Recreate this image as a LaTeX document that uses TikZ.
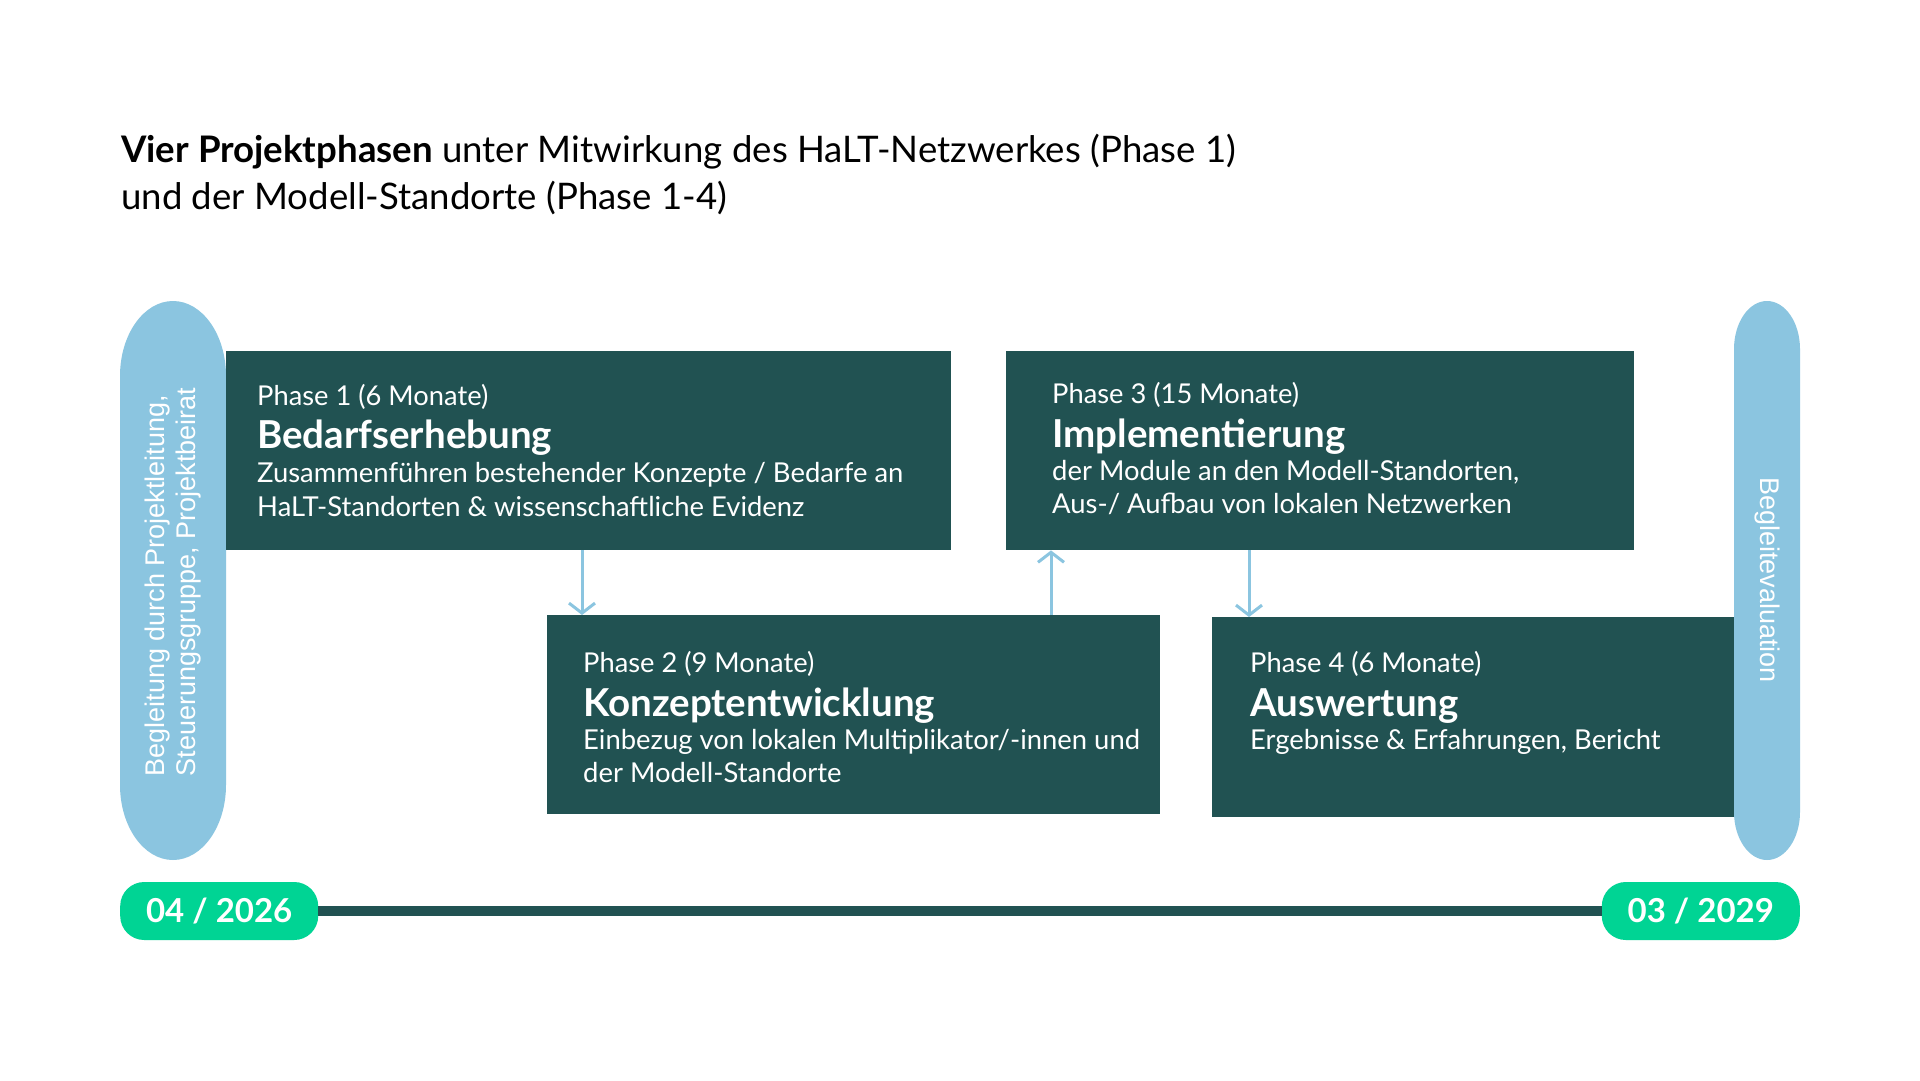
\documentclass[tikz,border=0pt]{standalone}
\usepackage{fontspec}
\setmainfont{Lato}
\newfontfamily\arialf{Liberation Sans}
\usetikzlibrary{arrows.meta,calc}
\definecolor{boxc}{HTML}{215252}
\definecolor{pillc}{HTML}{8BC5E0}
\definecolor{datec}{HTML}{00D494}
\newcommand\phsize{\fontsize{27.3}{32}\selectfont}
\newcommand\ttlsize{\fontsize{38.5}{44}\selectfont\bfseries}
\newcommand\bodysize{\fontsize{27.4}{32}\selectfont}
\begin{document}
\begin{tikzpicture}[x=1pt,y=-1pt,
  phasebox/.style={fill=boxc, draw=none, anchor=north west, inner sep=0pt},
  txt/.style={text=white, anchor=base west, inner sep=0pt},
  arr/.style={draw=pillc, line width=3pt, -{Straight Barb[length=10pt,width=26pt,line width=3pt]}},
  datepill/.style={fill=datec, rounded corners=24pt, minimum width=198pt, minimum height=58pt, inner sep=0pt, text=white, font=\fontsize{33}{38}\selectfont\bfseries},
  sidetxt/.style={text=white, inner sep=0pt, align=left, font=\arialf\fontsize{27}{31.5}\selectfont}
]
\useasboundingbox[fill=white] (0,0) rectangle (1920,1080);

% title
\node[anchor=base west, inner sep=0pt, font=\fontsize{36.6}{44}\selectfont] (t1) at (121,162) {\textbf{Vier Projektphasen} unter Mitwirkung des HaLT-Netzwerkes (Phase 1)};
\node[anchor=base west, inner sep=0pt, font=\fontsize{36.6}{44}\selectfont] (t2) at (121,209) {und der Modell-Standorte (Phase 1-4)};

% side pills
\fill[pillc] (120,376) -- (120,785) arc[start angle=180, end angle=0, x radius=53, y radius=75]
  -- (226,376) arc[start angle=0, end angle=-180, x radius=53, y radius=75] -- cycle;
\node[sidetxt, rotate=90] (ls) at (173,582) {Begleitung durch Projektleitung,\\Steuerungsgruppe, Projektbeirat};
\fill[pillc] (1734,349) -- (1734,812) arc[start angle=180, end angle=0, x radius=33, y radius=48]
  -- (1800,349) arc[start angle=0, end angle=-180, x radius=33, y radius=48] -- cycle;
\node[sidetxt, rotate=-90] (rs) at (1767,580) {Begleitevaluation};

% phase boxes
\node[phasebox, minimum width=725pt, minimum height=199pt] (p1) at (226,351) {};
\node[phasebox, minimum width=628pt, minimum height=199pt] (p3) at (1006,351) {};
\node[phasebox, minimum width=613pt, minimum height=199pt] (p2) at (547,615) {};
\node[phasebox, minimum width=522pt, minimum height=200pt] (p4) at (1212,617) {};

% phase 1 texts
\node[txt, font=\phsize] (p1a) at ($(p1.north west)+(31,54)$) {Phase 1 (6 Monate)};
\node[txt, font=\ttlsize] (p1b) at ($(p1.north west)+(31,97)$) {Bedarfserhebung};
\node[txt, font=\bodysize] (p1c) at ($(p1.north west)+(31,131)$) {Zusammenführen bestehender Konzepte / Bedarfe an};
\node[txt, font=\bodysize] (p1d) at ($(p1.north west)+(31,165)$) {HaLT-Standorten \& wissenschaftliche Evidenz};

% phase 3 texts
\node[txt, font=\phsize] (p3a) at ($(p3.north west)+(46,52)$) {Phase 3 (15 Monate)};
\node[txt, font=\ttlsize] (p3b) at ($(p3.north west)+(46,96)$) {Implementierung};
\node[txt, font=\bodysize] (p3c) at ($(p3.north west)+(46,129)$) {der Module an den Modell-Standorten,};
\node[txt, font=\bodysize] (p3d) at ($(p3.north west)+(46,162)$) {Aus-/ Aufbau von lokalen Netzwerken};

% phase 2 texts
\node[txt, font=\phsize] (p2a) at ($(p2.north west)+(36,57)$) {Phase 2 (9 Monate)};
\node[txt, font=\ttlsize] (p2b) at ($(p2.north west)+(36,101)$) {Konzeptentwicklung};
\node[txt, font=\bodysize] (p2c) at ($(p2.north west)+(36,134)$) {Einbezug von lokalen Multiplikator/-innen und};
\node[txt, font=\bodysize] (p2d) at ($(p2.north west)+(36,167)$) {der Modell-Standorte};

% phase 4 texts
\node[txt, font=\phsize] (p4a) at ($(p4.north west)+(38,55)$) {Phase 4 (6 Monate)};
\node[txt, font=\ttlsize] (p4b) at ($(p4.north west)+(38,99)$) {Auswertung};
\node[txt, font=\bodysize] (p4c) at ($(p4.north west)+(38,132)$) {Ergebnisse \& Erfahrungen, Bericht};

% arrows
\coordinate (a1) at (582,0);
\coordinate (a2) at (1051,0);
\coordinate (a3) at (1249,0);
\draw[arr] (p1.south -| a1) -- (p2.north -| a1);
\draw[arr] (p2.north -| a2) -- (p3.south -| a2);
\draw[arr] (p3.south -| a3) -- (p4.north -| a3);

% timeline
\node[datepill, anchor=west] (d1) at (120,911) {04 / 2026};
\node[datepill, anchor=east] (d2) at (1800,911) {03 / 2029};
\draw[boxc, line width=10pt] (d1.east) -- (d2.west);
\end{tikzpicture}
\end{document}
